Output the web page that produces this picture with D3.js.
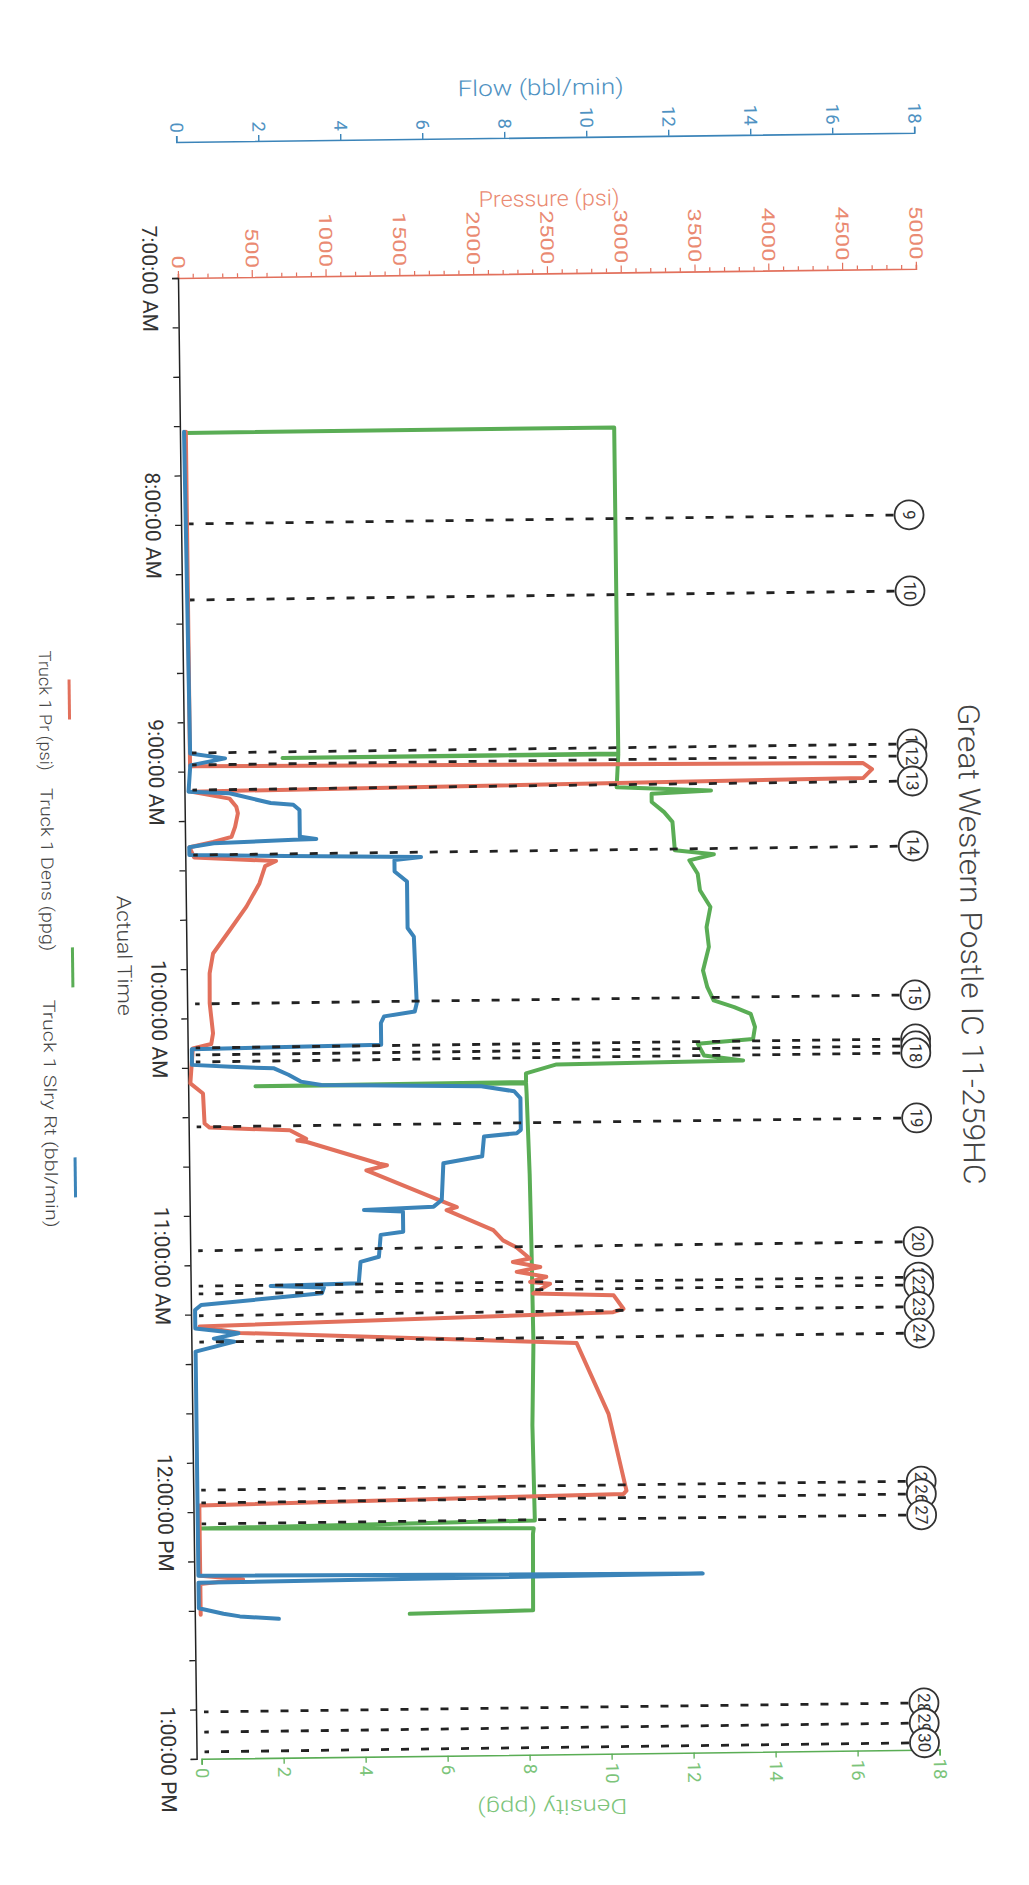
<!DOCTYPE html>
<html><head><meta charset="utf-8">
<script src="https://cdn.jsdelivr.net/npm/d3@7"></script>
<style>
body{margin:0;background:#fff}
svg{display:block}
text{font-family:Roboto,"Liberation Sans",Arial,sans-serif}
</style>
</head><body>
<svg id="chart" width="1029" height="1885"></svg>
<script>
// ---------------- DATA ----------------
const chartTitle = "Great Western Postle IC 11-259HC";
const pressureTicks = [0,500,1000,1500,2000,2500,3000,3500,4000,4500,5000];
const flowTicks = [0,2,4,6,8,10,12,14,16,18];
const densityTicks = [0,2,4,6,8,10,12,14,16,18];
const timeDomain = ["07:00:00","13:00:00"];
const seriesNames = ["Truck 1 Pr (psi)","Truck 1 Dens (ppg)","Truck 1 Slry Rt (bbl/min)"];

// Truck 1 Pr (psi): [time, psi]
const truck1Pr = [
 ["07:37:24",40],["08:58:42",40],["09:00:00",4600],["09:01:30",4660],["09:03:36",4600],["09:04:54",50],
 ["09:06:42",305],["09:08:42",350],["09:10:18",360],["09:13:36",340],["09:16:00",315],["09:17:12",190],
 ["09:18:24",30],["09:20:54",60],["09:22:00",615],["09:23:12",540],["09:27:24",500],["09:33:00",410],
 ["09:38:42",295],["09:44:18",180],["09:49:06",155],["09:56:24",153],["10:03:42",173],["10:06:18",160],
 ["10:07:18",35],["10:15:48",15],["10:18:18",100],["10:25:36",108],["10:26:36",142],["10:27:30",685],
 ["10:29:36",795],["10:30:00",735],["10:30:24",800],["10:35:54",1290],["10:36:18",1340],["10:37:30",1200],
 ["10:45:00",1695],["10:46:42",1810],["10:47:24",1740],["10:52:24",2055],["10:54:54",2120],["10:56:36",2210],
 ["10:59:24",2300],["11:00:12",2185],["11:01:30",2370],["11:02:36",2210],["11:03:54",2410],["11:05:06",2300],
 ["11:05:36",2435],["11:07:54",2320],["11:08:36",2865],["11:11:54",2930],["11:12:42",2860],["11:14:54",57],
 ["11:16:36",330],["11:20:06",2610],["11:37:24",2820],["11:56:06",2935],["11:56:54",2915],["11:58:24",40],
 ["12:15:30",40],["12:16:30",330],["12:17:30",40],["12:25:00",40]
];
// Truck 1 Dens (ppg): [time, ppg]
const truck1Dens = [
 ["07:37:40",0],["07:37:41",10.47],["08:56:54",10.47],["08:57:00",2.28],["08:57:06",10.47],["09:05:06",10.42],
 ["09:06:12",12.72],["09:06:48",11.27],["09:08:48",11.27],["09:11:18",11.57],["09:13:42",11.77],["09:20:36",11.82],
 ["09:21:42",12.77],["09:23:06",12.17],["09:26:24",12.37],["09:30:24",12.42],["09:34:30",12.67],["09:39:24",12.57],
 ["09:44:12",12.62],["09:49:54",12.47],["09:54:00",12.57],["09:57:12",12.72],["09:58:54",13.22],["10:00:36",13.62],
 ["10:03:48",13.72],["10:06:42",13.67],["10:07:42",12.32],["10:10:36",12.47],["10:11:54",13.42],["10:12:18",8.87],
 ["10:14:24",8.12],["10:16:30",8.12],["10:16:40",1.52],["10:16:50",8.12],["10:19:18",8.13],["10:38:48",8.18],
 ["10:55:00",8.2],["11:20:00",8.22],["11:40:00",8.17],["12:03:06",8.2],["12:04:00",0.02],["12:05:00",8.17],
 ["12:06:18",8.15],["12:24:54",8.13],["12:25:24",5.12]
];
// Truck 1 Slry Rt (bbl/min): [time, bbl/min]
const truck1SlryRt = [
 ["07:37:24",0.1],["08:55:36",0.15],["08:56:54",1.0],["08:58:30",0.15],["09:04:54",0.1],["09:05:24",1.1],
 ["09:07:54",2.1],["09:08:24",2.65],["09:09:42",2.8],["09:16:12",2.8],["09:16:48",3.2],["09:16:54",2.65],
 ["09:17:30",0.7],["09:18:24",0.1],["09:20:18",0.1],["09:21:30",5.75],["09:22:06",5.1],["09:24:54",5.1],
 ["09:27:24",5.4],["09:38:42",5.4],["09:40:48",5.55],["09:57:00",5.6],["09:59:00",5.55],["10:00:06",4.8],
 ["10:01:42",4.72],["10:07:00",4.72],["10:07:30",0.1],["10:11:18",0.1],["10:11:54",1.05],["10:12:24",2.1],
 ["10:14:00",2.45],["10:15:42",2.75],["10:16:36",3.25],["10:17:24",7.15],["10:18:42",7.95],["10:20:24",8.1],
 ["10:28:06",8.1],["10:28:54",8.0],["10:29:36",7.2],["10:34:24",7.15],["10:36:00",6.2],["10:44:54",6.15],
 ["10:46:30",5.95],["10:47:06",4.25],["10:47:36",5.2],["10:52:30",5.2],["10:53:12",4.65],["10:58:30",4.6],
 ["10:59:42",4.15],["11:04:54",4.1],["11:05:18",1.95],["11:05:48",3.25],["11:07:12",3.2],["11:09:42",0.25],
 ["11:10:54",0.1],["11:15:24",0.1],["11:16:42",1.15],["11:17:54",0.55],["11:18:42",1.05],["11:21:00",0.1],
 ["12:15:30",0.1],["12:16:30",12.4],["12:17:12",0.1],["12:23:24",0.1],["12:24:48",0.7],["12:25:30",1.1],
 ["12:26:12",2.05]
];
// Event markers
const eventLabels = [9,10,11,12,13,14,15,16,17,18,19,20,21,22,23,24,25,26,27,28,29,30];
const eventTimes = ["07:59:48","08:18:18","08:55:30","08:58:24","09:04:30","09:20:18","09:56:30",
 "10:07:12","10:08:54","10:10:36","10:26:24","10:56:30","11:05:06","11:07:00","11:12:18","11:18:42",
 "11:54:42","11:57:48","12:02:54","12:48:36","12:53:30","12:58:18"];

// ---------------- LAYOUT ----------------
const X0 = 178, W = 738, Y0 = 278, H = 1481, DOFF = 5;
const C = {pr:"#e2705c", dens:"#5aad55", flow:"#3b84b9",
           prText:"#ea8a72", densText:"#7cc47a", flowText:"#4f92c2", ink:"#222"};
const parse = d3.timeParse("%H:%M:%S");
const y = d3.scaleTime().domain(timeDomain.map(parse)).range([Y0, Y0 + H]);
const xP = d3.scaleLinear().domain([0,5000]).range([X0, X0 + W]);
const xF = d3.scaleLinear().domain([0,18]).range([X0, X0 + W]);
const xD = d3.scaleLinear().domain([0,18]).range([X0 + DOFF, X0 + W + DOFF]);

const svg = d3.select("#chart");
svg.append("rect").attr("width",1029).attr("height",1885).attr("fill","#fff");
const root = svg.append("g").attr("transform", `rotate(-0.72 ${X0} ${Y0})`);

function rotLabels(sel, mode, off, size, color, perChar){
  sel.selectAll("text").each(function(){
    const t = d3.select(this);
    const s = t.text();
    t.attr("x",null).attr("y",null).attr("dy",null).attr("fill",color)
     .style("font-size", size+"px");
    if(!s) return;
    if(mode==="up"){ t.attr("transform",`translate(0,${-off}) rotate(90)`).attr("text-anchor","end").attr("dy","0.35em"); }
    else if(mode==="down"){ t.attr("transform",`translate(0,${off}) rotate(90)`).attr("text-anchor","start").attr("dy","0.35em"); }
    else { t.attr("transform",`translate(${-off},0) rotate(90)`).attr("text-anchor","middle").attr("dy","0.35em"); }
    if(perChar){ t.attr("textLength", s.length*perChar).attr("lengthAdjust","spacingAndGlyphs"); }
  });
}

// ---- Flow axis (top, outer)
const flowAxis = root.append("g").attr("transform",`translate(0,142)`)
  .call(d3.axisTop(xF).tickValues(flowTicks).tickSize(6).tickPadding(0));
flowAxis.select(".domain").attr("stroke",C.flow).attr("stroke-width",1.6);
flowAxis.selectAll(".tick line").attr("stroke",C.flow).attr("stroke-width",1.4);
rotLabels(flowAxis,"up",9,18,C.flowText,10.5);
root.append("text").attr("x",X0+W/2-4).attr("y",92).attr("dy","0.35em").attr("text-anchor","middle")
  .attr("fill",C.flowText).style("font-size","22px").style("font-weight",300)
  .attr("textLength",166).attr("lengthAdjust","spacingAndGlyphs").text("Flow (bbl/min)");

// ---- Pressure axis (top, inner)
const prAxis = root.append("g").attr("transform",`translate(0,${Y0})`)
  .call(d3.axisTop(xP).tickValues(d3.range(0,5001,100)).tickSize(4).tickPadding(0)
        .tickFormat(d => pressureTicks.includes(d) ? d : ""));
prAxis.select(".domain").attr("stroke",C.pr).attr("stroke-width",1.6);
prAxis.selectAll(".tick line").attr("stroke",C.pr).attr("stroke-width",1.2)
  .attr("y2", d => pressureTicks.includes(d) ? -7 : -4);
rotLabels(prAxis,"up",9,18,C.prText,13.5);
root.append("text").attr("x",X0+W/2+3).attr("y",203).attr("dy","0.35em").attr("text-anchor","middle")
  .attr("fill",C.prText).style("font-size","22px").style("font-weight",300)
  .attr("textLength",141).attr("lengthAdjust","spacingAndGlyphs").text("Pressure (psi)");

// ---- Time axis (left)
const tMin = y.domain()[0], tMax = y.domain()[1];
const timeAxis = root.append("g").attr("transform",`translate(${X0},0)`)
  .call(d3.axisLeft(y).tickValues(d3.timeMinute.every(12).range(tMin, new Date(+tMax+1000)))
        .tickSize(6).tickPadding(0)
        .tickFormat(d => d.getMinutes()===0 ? d3.timeFormat("%-I:%M:%S %p")(d) : ""));
timeAxis.select(".domain").attr("stroke",C.ink).attr("stroke-width",1.5);
timeAxis.selectAll(".tick line").attr("stroke",C.ink).attr("stroke-width",1.3);
rotLabels(timeAxis,"left",28,21,"#333",0);
root.append("text").attr("transform",`translate(116,955) rotate(90)`).attr("text-anchor","middle").attr("dy","0.35em")
  .attr("fill","#444").style("font-size","20px").style("font-weight",300)
  .attr("textLength",120).attr("lengthAdjust","spacingAndGlyphs").text("Actual Time");

// ---- Density axis (bottom)
const densAxis = root.append("g").attr("transform",`translate(0,${Y0+H})`)
  .call(d3.axisBottom(xD).tickValues(densityTicks).tickSize(6).tickPadding(0));
densAxis.select(".domain").attr("stroke",C.dens).attr("stroke-width",1.6);
densAxis.selectAll(".tick line").attr("stroke",C.dens).attr("stroke-width",1.3);
rotLabels(densAxis,"down",9,18,C.densText,10.5);
root.append("text").attr("transform",`translate(${X0+W/2-14},1812) rotate(180)`).attr("text-anchor","middle").attr("dy","0.35em")
  .attr("fill",C.densText).style("font-size","21px").style("font-weight",300)
  .attr("textLength",150).attr("lengthAdjust","spacingAndGlyphs").text("Density (ppg)");

// ---- Series
const lineOf = sc => d3.line().x(d => sc(d[1])).y(d => y(parse(d[0])));
const series = [
  {data:truck1Dens, sc:xD, color:C.dens},
  {data:truck1Pr, sc:xP, color:C.pr},
  {data:truck1SlryRt, sc:xF, color:C.flow}
];
series.forEach(s => {
  root.append("path").datum(s.data).attr("d", lineOf(s.sc)).attr("fill","none")
    .attr("stroke", s.color).attr("stroke-width",4).attr("stroke-linejoin","round").attr("stroke-linecap","round");
});

// ---- Event markers
const evR = 14.5, evCx = X0 + W - 10;
const ev = root.append("g");
eventLabels.forEach((lab,i) => {
  const yy = y(parse(eventTimes[i]));
  ev.append("line").attr("x1", evCx - evR - 1).attr("x2", X0 + 8).attr("y1", yy).attr("y2", yy)
    .attr("stroke", C.ink).attr("stroke-width", 2.8).attr("stroke-dasharray","8 12");
});
eventLabels.forEach((lab,i) => {
  const yy = y(parse(eventTimes[i]));
  const g = ev.append("g").attr("transform",`translate(${evCx},${yy})`);
  g.append("circle").attr("r", evR).attr("fill","#fff").attr("stroke","#333").attr("stroke-width",1.8);
  g.append("text").attr("transform","rotate(90)").attr("text-anchor","middle").attr("dy","0.35em")
    .attr("fill","#333").style("font-size","17px").text(lab);
});

// ---- Title
root.append("text").attr("transform",`translate(963,954) rotate(90)`).attr("text-anchor","middle").attr("dy","0.35em")
  .attr("fill","#444").style("font-size","30px").style("font-weight",300)
  .attr("textLength",481).attr("lengthAdjust","spacingAndGlyphs").text(chartTitle);

// ---- Legend
const legendPos = [{ty:709, tl:120, ly:698},{ty:868, tl:163, ly:966},{ty:1112, tl:228, ly:1176}];
const legColors = [C.pr, C.dens, C.flow];
seriesNames.forEach((nm,i) => {
  const p = legendPos[i];
  root.append("line").attr("x1",64).attr("x2",64).attr("y1",p.ly-20).attr("y2",p.ly+20)
    .attr("stroke",legColors[i]).attr("stroke-width",3);
  root.append("text").attr("transform",`translate(40,${p.ty}) rotate(90)`).attr("text-anchor","middle").attr("dy","0.35em")
    .attr("fill","#444").style("font-size","17px").style("font-weight",300)
    .attr("textLength",p.tl).attr("lengthAdjust","spacingAndGlyphs").text(nm);
});
</script>
</body></html>
